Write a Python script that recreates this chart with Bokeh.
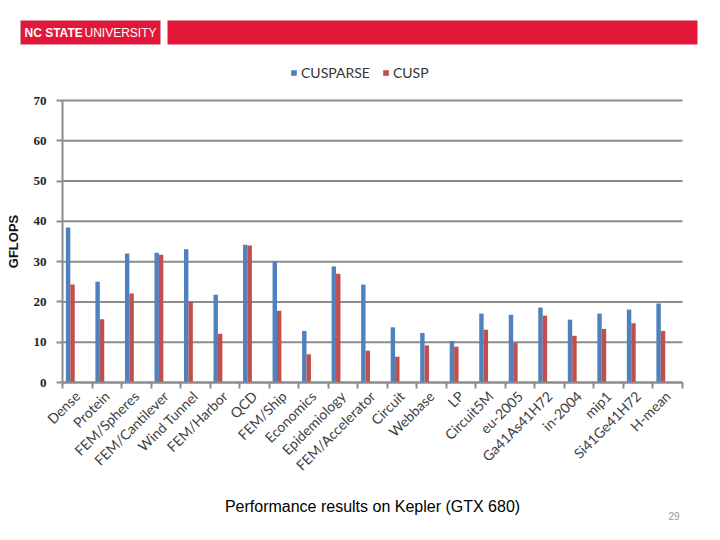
from bokeh.plotting import figure
from bokeh.models import (ColumnDataSource, Range1d, FixedTicker, Label, BoxAnnotation,
                          Legend, LegendItem, LinearAxis)
from bokeh.transform import dodge
from bokeh.embed import file_html
from bokeh.resources import INLINE
from math import pi

categories = ["Dense", "Protein", "FEM/Spheres", "FEM/Cantilever", "Wind Tunnel",
              "FEM/Harbor", "QCD", "FEM/Ship", "Economics", "Epidemiology",
              "FEM/Accelerator", "Circuit", "Webbase", "LP", "Circuit5M", "eu-2005",
              "Ga41As41H72", "in-2004", "mip1", "Si41Ge41H72", "H-mean"]
cusparse = [38.5, 25.0, 32.0, 32.2, 33.1, 21.8, 34.2, 30.0, 12.8, 28.8, 24.3,
            13.7, 12.3, 10.3, 17.1, 16.8, 18.6, 15.6, 17.1, 18.1, 19.6]
cusp = [24.3, 15.7, 22.1, 31.7, 20.1, 12.1, 34.0, 17.8, 7.0, 27.0, 7.9,
        6.4, 9.2, 8.9, 13.1, 9.8, 16.6, 11.6, 13.3, 14.7, 12.8]
y_ticks = [0, 10, 20, 30, 40, 50, 60, 70]

BLUE = "#4F81BD"
RED = "#C0504D"
GRID = "#8C8C8C"
NCSU = "#E2173A"

W, H = 704, 524
# plot area inside the canvas (pixels from the top-left)
PL, PR, PT, PB = 62, 682, 100, 382

n = len(categories)
ymax = y_ticks[-1]
kx = (PR - PL) / n
ky = (PB - PT) / ymax
centers = [i + 0.5 for i in range(n)]
source = ColumnDataSource(dict(x=centers, cusparse=cusparse, cusp=cusp))

# the frame fills the whole canvas so that header, legend and caption are not clipped
p = figure(width=W, height=H, output_backend="svg", toolbar_location=None,
           x_range=Range1d(-PL / kx, n + (W - PR) / kx),
           y_range=Range1d(-(H - PB) / ky, ymax + PT / ky),
           x_axis_type=None, y_axis_type=None, min_border=0,
           background_fill_color="white", border_fill_color="white")
p.outline_line_color = None
p.grid.grid_line_color = None

# horizontal grid lines over the plot area
p.segment(x0=[0] * len(y_ticks), y0=y_ticks, x1=[n] * len(y_ticks), y1=y_ticks,
          line_color=GRID, line_width=2)

r1 = p.vbar(x=dodge("x", -0.31, range=p.x_range), top="cusparse", width=0.15,
            source=source, fill_color=BLUE, line_color=None)
r2 = p.vbar(x=dodge("x", -0.16, range=p.x_range), top="cusp", width=0.15,
            source=source, fill_color=RED, line_color=None)

# x axis: labels at category centres, tick marks on boundaries
xa = LinearAxis(fixed_location=0, bounds=(0, n))
xa.ticker = FixedTicker(ticks=centers, minor_ticks=list(range(n + 1)))
xa.major_label_overrides = {c: lab for c, lab in zip(centers, categories)}
xa.major_label_orientation = pi / 4
xa.major_tick_line_color = None
xa.minor_tick_line_color = GRID
xa.minor_tick_line_width = 2
xa.minor_tick_in = 0
xa.minor_tick_out = 6
xa.axis_line_color = GRID
xa.axis_line_width = 2
xa.major_label_text_font = "Lato"
xa.major_label_text_font_size = "14px"
xa.major_label_text_color = "#404040"
xa.major_label_standoff = 5
p.add_layout(xa, "below")

ya = LinearAxis(fixed_location=0, bounds=(0, ymax))
ya.ticker = FixedTicker(ticks=y_ticks)
ya.minor_tick_line_color = None
ya.major_tick_line_color = GRID
ya.major_tick_line_width = 2
ya.major_tick_in = 0
ya.major_tick_out = 6
ya.axis_line_color = GRID
ya.axis_line_width = 2
ya.major_label_text_font = "Liberation Serif"
ya.major_label_text_font_style = "bold"
ya.major_label_text_font_size = "13px"
ya.major_label_text_color = "#222222"
ya.major_label_standoff = 10
ya.axis_label = "GFLOPS"
ya.axis_label_text_font = "Liberation Sans"
ya.axis_label_text_font_style = "bold"
ya.axis_label_text_font_size = "13px"
ya.axis_label_text_color = "#111111"
ya.axis_label_standoff = 10
p.add_layout(ya, "left")

legend = Legend(items=[LegendItem(label="CUSPARSE", renderers=[r1]),
                       LegendItem(label="CUSP", renderers=[r2])],
                orientation="horizontal", location=(290, 443),
                glyph_width=7, glyph_height=7, label_text_font="Lato",
                label_text_font_size="14px", label_text_color="#333333",
                border_line_color=None, background_fill_alpha=0,
                spacing=12, label_standoff=4, padding=0, margin=0)
p.add_layout(legend, "center")

# slide header
p.add_layout(BoxAnnotation(left=20, right=160, bottom=H - 44, top=H - 20,
                           left_units="screen", right_units="screen",
                           bottom_units="screen", top_units="screen",
                           fill_color=NCSU, fill_alpha=1, line_color="#B0B0B0"))
p.add_layout(BoxAnnotation(left=167, right=697, bottom=H - 44, top=H - 20,
                           left_units="screen", right_units="screen",
                           bottom_units="screen", top_units="screen",
                           fill_color=NCSU, fill_alpha=1, line_color=None))
p.add_layout(Label(x=24, y=H - 32, x_units="screen", y_units="screen", text="NC STATE",
                   text_font="Liberation Sans", text_font_style="bold",
                   text_baseline="middle", text_font_size="12px", text_color="white"))
p.add_layout(Label(x=84, y=H - 32, x_units="screen", y_units="screen", text="UNIVERSITY",
                   text_font="Liberation Sans", text_font_size="12px",
                   text_baseline="middle", text_color="white"))

p.add_layout(Label(x=372, y=H - 514, x_units="screen", y_units="screen",
                   text="Performance results on Kepler (GTX 680)", text_align="center",
                   text_font="Liberation Sans", text_font_size="16px", text_color="black"))
p.add_layout(Label(x=668, y=H - 515, x_units="screen", y_units="screen", text="29",
                   text_baseline="middle",
                   text_font="Liberation Sans", text_font_size="10px", text_color="#999999"))

open("out.html", "w").write(file_html(p, INLINE))
